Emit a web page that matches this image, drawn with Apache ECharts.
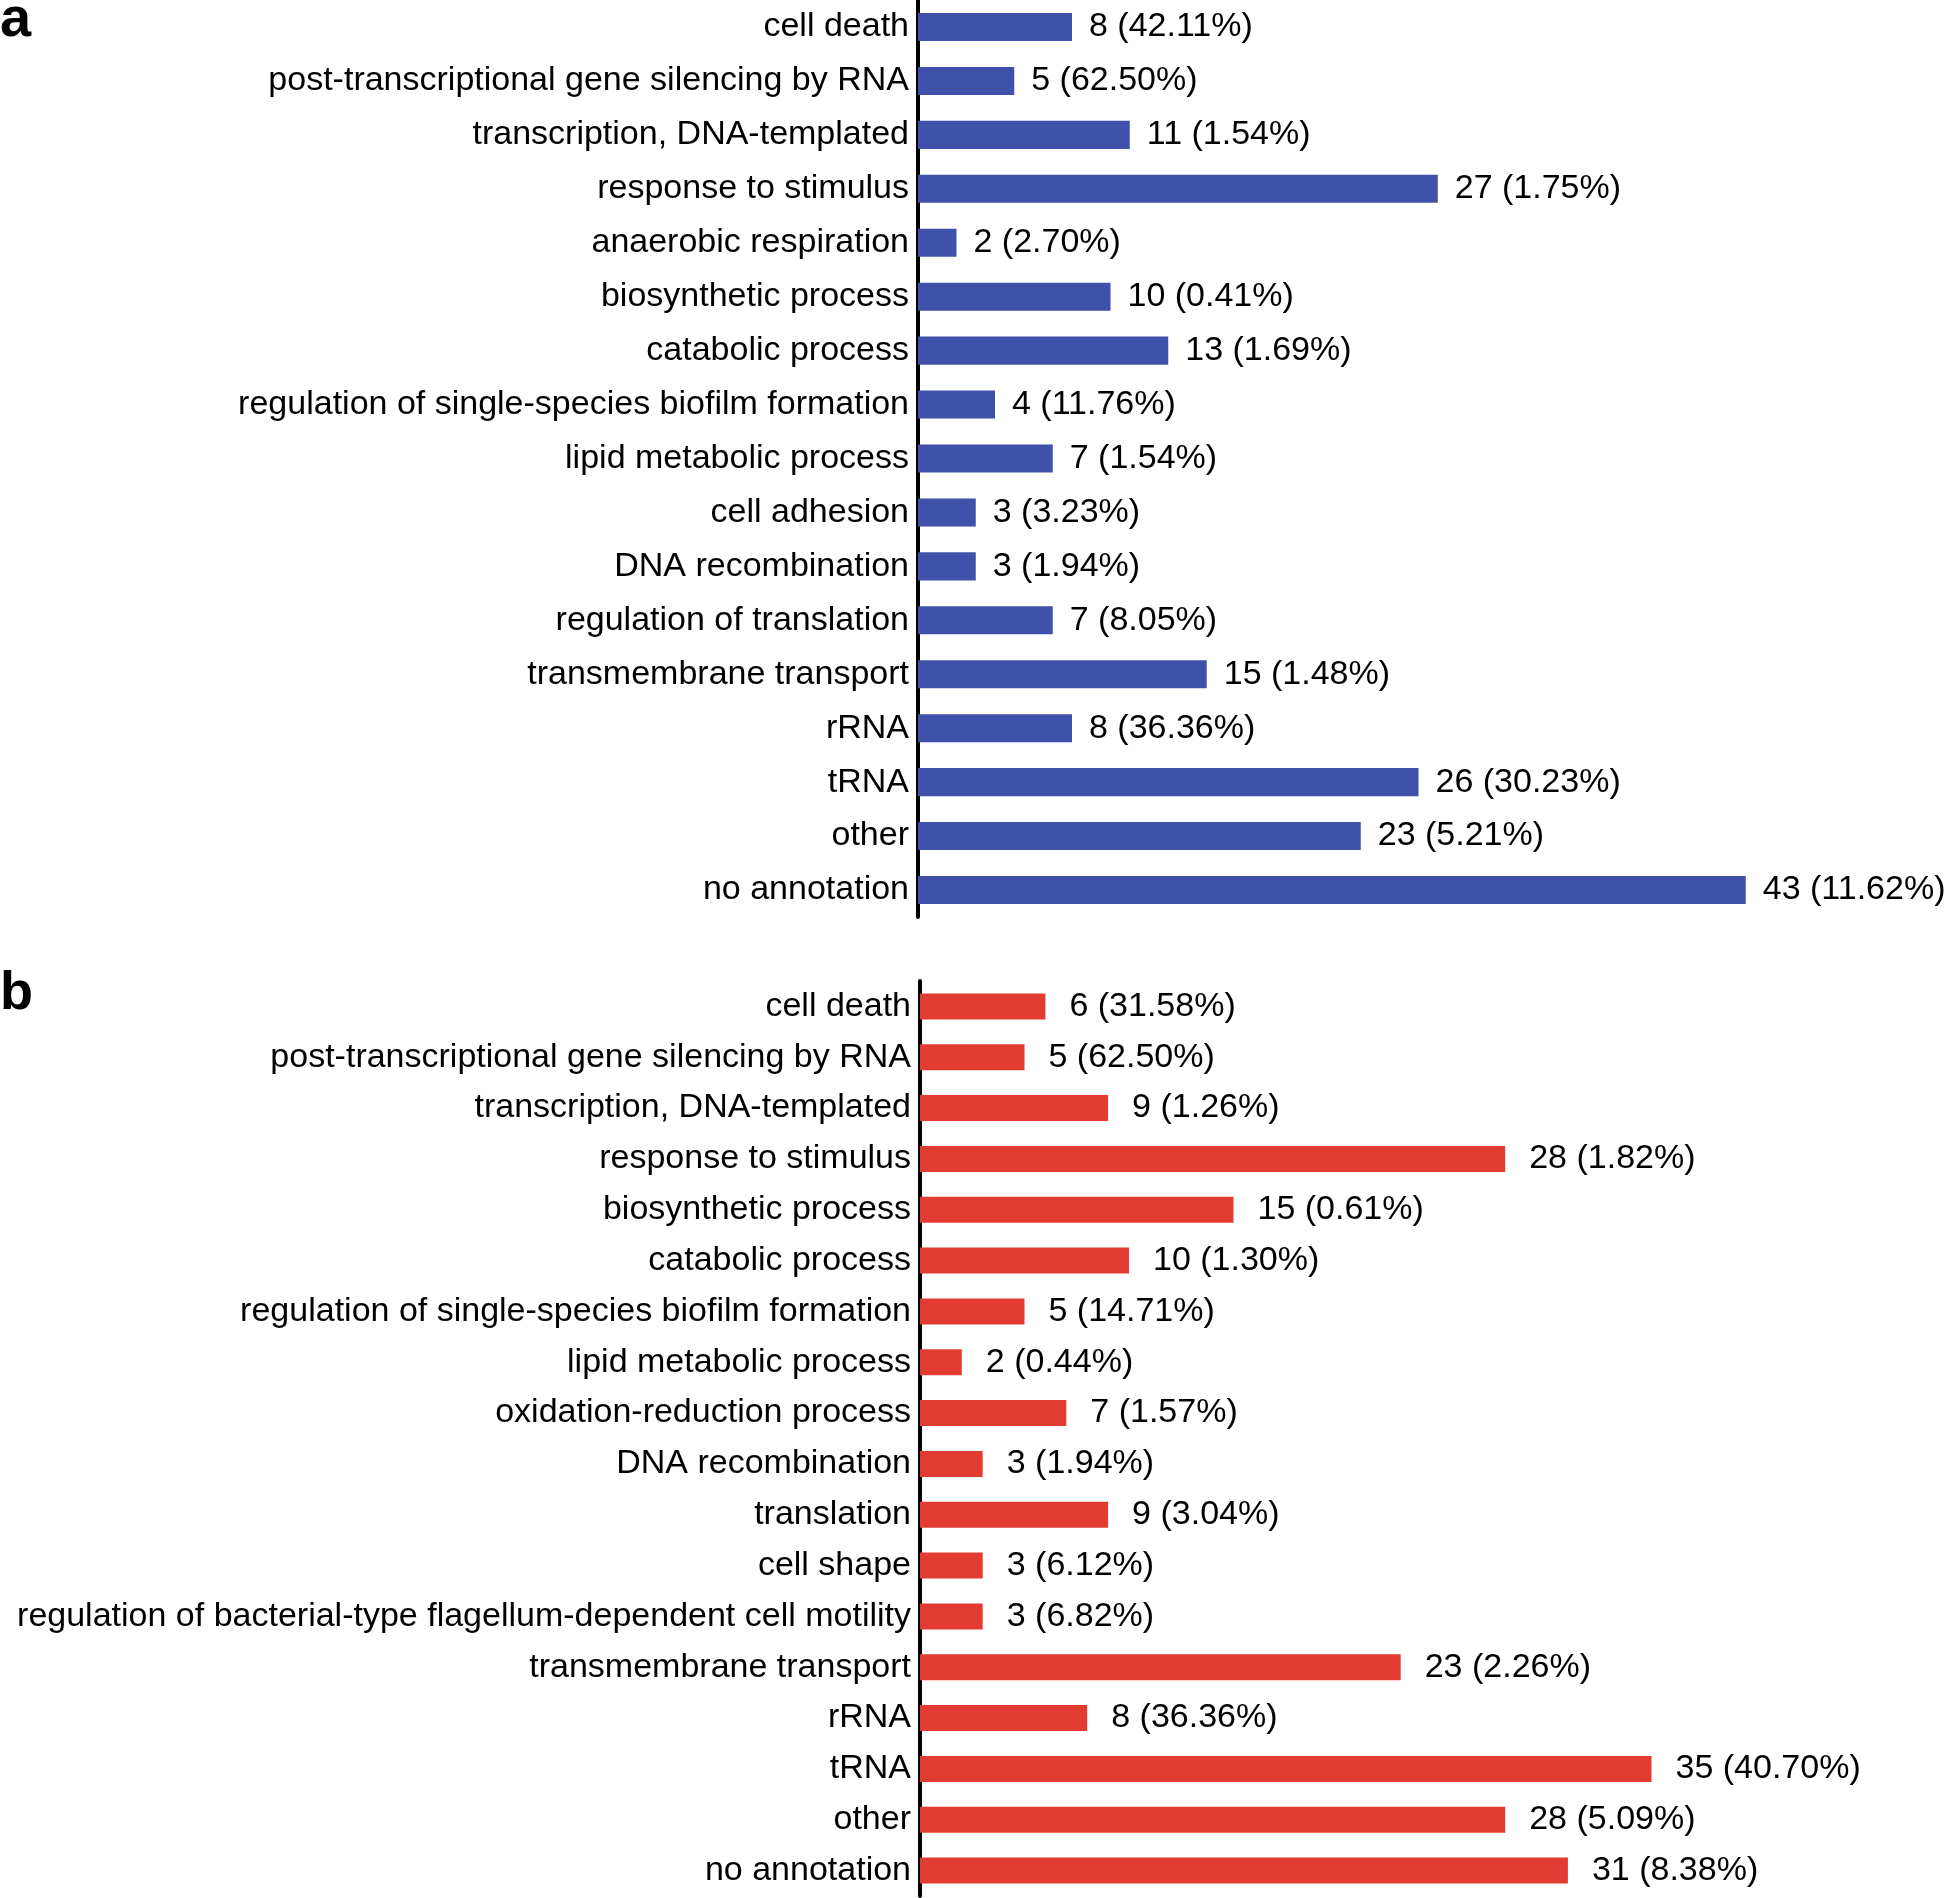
<!DOCTYPE html>
<html lang="en">
  <head>
    <meta charset="UTF-8" />
    <title>GO categories</title>
    <script src="https://cdn.jsdelivr.net/npm/echarts@6.0.0/dist/echarts.min.js"></script>
    <style>
      body { margin: 0; background: #fff; }
    </style>
  </head>
  <body>
    <div id="main" style="width: 1945px; height: 1898px"></div>
    <script type="text/javascript">
      // panel a
      const categoriesA = [
        "cell death",
        "post-transcriptional gene silencing by RNA",
        "transcription, DNA-templated",
        "response to stimulus",
        "anaerobic respiration",
        "biosynthetic process",
        "catabolic process",
        "regulation of single-species biofilm formation",
        "lipid metabolic process",
        "cell adhesion",
        "DNA recombination",
        "regulation of translation",
        "transmembrane transport",
        "rRNA",
        "tRNA",
        "other",
        "no annotation",
      ];
      const countsA = [8, 5, 11, 27, 2, 10, 13, 4, 7, 3, 3, 7, 15, 8, 26, 23, 43];
      const percentA = [
        "42.11%", "62.50%", "1.54%", "1.75%", "2.70%", "0.41%", "1.69%", "11.76%",
        "1.54%", "3.23%", "1.94%", "8.05%", "1.48%", "36.36%", "30.23%", "5.21%", "11.62%",
      ];

      // panel b
      const categoriesB = [
        "cell death",
        "post-transcriptional gene silencing by RNA",
        "transcription, DNA-templated",
        "response to stimulus",
        "biosynthetic process",
        "catabolic process",
        "regulation of single-species biofilm formation",
        "lipid metabolic process",
        "oxidation-reduction process",
        "DNA recombination",
        "translation",
        "cell shape",
        "regulation of bacterial-type flagellum-dependent cell motility",
        "transmembrane transport",
        "rRNA",
        "tRNA",
        "other",
        "no annotation",
      ];
      const countsB = [6, 5, 9, 28, 15, 10, 5, 2, 7, 3, 9, 3, 3, 23, 8, 35, 28, 31];
      const percentB = [
        "31.58%", "62.50%", "1.26%", "1.82%", "0.61%", "1.30%", "14.71%", "0.44%", "1.57%",
        "1.94%", "3.04%", "6.12%", "6.82%", "2.26%", "36.36%", "40.70%", "5.09%", "8.38%",
      ];

      const FONT = "'Liberation Sans', Arial, Helvetica, sans-serif";
      const textStyle = { fontFamily: FONT, fontSize: 34, color: "#000" };

      function catAxis(idx, cats) {
        return {
          type: "category",
          gridIndex: idx,
          data: cats,
          inverse: true,
          axisLine: { show: true, lineStyle: { color: "#000", width: 4 } },
          axisTick: { show: false },
          axisLabel: Object.assign({ margin: 9, interval: 0 }, textStyle),
        };
      }

      function valAxis(idx, max) {
        return {
          type: "value",
          gridIndex: idx,
          min: 0,
          max: max,
          show: false,
          splitLine: { show: false },
        };
      }

      function barSeries(idx, counts, pct, color, width, gap) {
        return {
          type: "bar",
          xAxisIndex: idx,
          yAxisIndex: idx,
          data: counts,
          barWidth: width,
          itemStyle: { color: color },
          silent: true,
          label: Object.assign(
            {
              show: true,
              position: "right",
              distance: gap,
              formatter: (p) => p.value + " (" + pct[p.dataIndex] + ")",
            },
            textStyle
          ),
        };
      }

      let myChart = echarts.init(document.getElementById("main"));
      myChart.setOption({
        animation: false,
        backgroundColor: "#fff",
        grid: [
          { left: 918, top: 0, width: 962.5, height: 917 },
          { left: 920, top: 981, width: 940.5, height: 915 },
        ],
        xAxis: [valAxis(0, 50), valAxis(1, 45)],
        yAxis: [catAxis(0, categoriesA), catAxis(1, categoriesB)],
        series: [
          barSeries(0, countsA, percentA, "#3f51a9", "52%", 17),
          barSeries(1, countsB, percentB, "#e23b31", "51%", 24),
        ],
        graphic: [
          {
            type: "text",
            left: 0,
            top: -7,
            style: { text: "a", fontFamily: FONT, fontWeight: "bold", fontSize: 56, fill: "#000" },
          },
          {
            type: "text",
            left: 0,
            top: 967,
            style: { text: "b", fontFamily: FONT, fontWeight: "bold", fontSize: 54, fill: "#000" },
          },
        ],
      });
    </script>
  </body>
</html>
